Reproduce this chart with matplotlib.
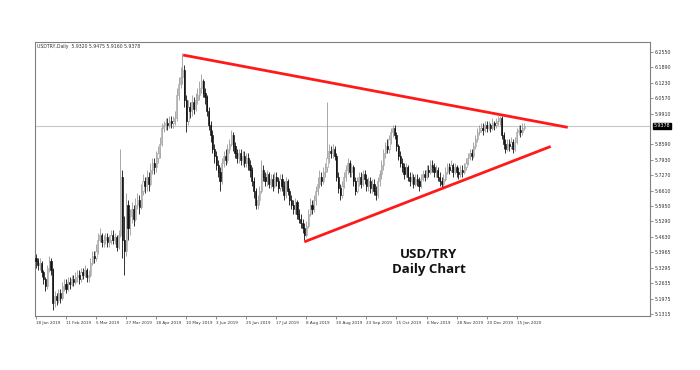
import matplotlib
matplotlib.use("Agg")
import matplotlib.pyplot as plt
import numpy as np

# ---------------- data ----------------
closes = [
5.36,5.34,5.35,5.31,5.28,5.25,5.33,5.36,5.32,5.18,
5.21,5.19,5.22,5.20,5.25,5.26,5.24,5.27,5.26,5.28,
5.27,5.29,5.30,5.28,5.31,5.30,5.32,5.29,5.30,5.35,
5.38,5.37,5.40,5.45,5.47,5.44,5.45,5.46,5.44,5.45,
5.47,5.45,5.46,5.42,5.47,5.72,5.45,5.40,5.60,5.50,
5.55,5.58,5.54,5.60,5.62,5.59,5.66,5.70,5.68,5.72,
5.69,5.75,5.78,5.76,5.80,5.82,5.86,5.93,5.94,5.95,
5.94,5.96,5.95,5.96,5.97,6.07,6.12,6.15,6.18,6.05,
5.96,6.02,6.00,6.04,6.01,6.05,6.07,6.10,6.13,6.08,
6.06,6.00,5.94,5.90,5.84,5.81,5.77,5.74,5.70,5.78,
5.81,5.79,5.84,5.86,5.90,5.85,5.82,5.80,5.82,5.79,
5.81,5.78,5.80,5.77,5.75,5.70,5.66,5.60,5.62,5.66,
5.75,5.72,5.70,5.73,5.69,5.71,5.68,5.72,5.70,5.67,
5.71,5.68,5.64,5.70,5.66,5.62,5.60,5.58,5.61,5.56,
5.54,5.52,5.50,5.47,5.51,5.56,5.60,5.58,5.62,5.66,
5.69,5.72,5.70,5.74,5.76,5.80,5.83,5.82,5.84,5.81,
5.72,5.67,5.64,5.68,5.72,5.75,5.78,5.74,5.76,5.70,
5.66,5.70,5.72,5.69,5.73,5.71,5.68,5.70,5.67,5.69,
5.66,5.64,5.70,5.73,5.77,5.82,5.85,5.84,5.88,5.91,
5.93,5.90,5.85,5.81,5.78,5.76,5.73,5.76,5.72,5.70,
5.72,5.69,5.71,5.70,5.68,5.71,5.73,5.72,5.75,5.74,
5.77,5.76,5.74,5.75,5.72,5.70,5.69,5.71,5.74,5.76,
5.75,5.77,5.74,5.76,5.74,5.73,5.75,5.74,5.76,5.78,
5.80,5.82,5.81,5.85,5.88,5.91,5.92,5.93,5.92,5.94,
5.93,5.94,5.93,5.95,5.94,5.95,5.96,5.97,5.90,5.86,
5.84,5.86,5.85,5.87,5.84,5.87,5.91,5.92,5.91,5.93,
5.9378]

highs = [
5.39,5.37,5.37,5.36,5.32,5.29,5.34,5.38,5.37,5.33,
5.23,5.22,5.24,5.24,5.27,5.28,5.28,5.29,5.29,5.30,
5.30,5.31,5.32,5.32,5.33,5.33,5.34,5.33,5.32,5.37,
5.40,5.40,5.43,5.48,5.50,5.48,5.47,5.48,5.48,5.47,
5.49,5.49,5.48,5.47,5.49,5.84,5.75,5.55,5.65,5.62,
5.58,5.61,5.60,5.63,5.65,5.64,5.69,5.73,5.72,5.75,
5.74,5.78,5.80,5.80,5.83,5.85,5.89,5.95,5.96,5.97,
5.97,5.98,5.98,5.98,6.00,6.10,6.15,6.19,6.25,6.20,
6.07,6.05,6.04,6.07,6.06,6.08,6.10,6.13,6.16,6.14,
6.10,6.07,6.02,5.96,5.92,5.86,5.83,5.79,5.76,5.80,
5.83,5.84,5.86,5.88,5.92,5.91,5.87,5.84,5.84,5.84,
5.83,5.83,5.82,5.82,5.79,5.76,5.72,5.67,5.64,5.68,
5.79,5.77,5.74,5.75,5.74,5.73,5.73,5.74,5.74,5.72,
5.73,5.73,5.70,5.72,5.71,5.67,5.64,5.62,5.63,5.62,
5.58,5.56,5.54,5.52,5.53,5.58,5.63,5.62,5.64,5.68,
5.72,5.75,5.74,5.76,5.78,6.04,5.86,5.85,5.86,5.85,
5.82,5.74,5.69,5.70,5.74,5.77,5.80,5.79,5.78,5.77,
5.72,5.72,5.74,5.74,5.75,5.75,5.73,5.72,5.72,5.71,
5.71,5.68,5.72,5.75,5.79,5.84,5.87,5.88,5.90,5.93,
5.94,5.94,5.91,5.86,5.83,5.80,5.78,5.78,5.77,5.74,
5.74,5.73,5.73,5.73,5.72,5.73,5.75,5.75,5.77,5.77,
5.79,5.79,5.78,5.77,5.76,5.74,5.72,5.73,5.76,5.78,
5.78,5.79,5.78,5.78,5.77,5.76,5.77,5.77,5.78,5.80,
5.82,5.84,5.84,5.87,5.90,5.93,5.94,5.95,5.95,5.96,
5.96,5.96,5.95,5.97,5.96,5.97,5.98,5.98,5.98,5.91,
5.88,5.88,5.88,5.89,5.88,5.89,5.93,5.94,5.94,5.95,
5.95]

lows = [
5.33,5.32,5.32,5.29,5.26,5.23,5.24,5.31,5.30,5.15,
5.16,5.17,5.18,5.18,5.19,5.23,5.22,5.23,5.24,5.25,
5.25,5.26,5.27,5.26,5.27,5.28,5.29,5.27,5.27,5.29,
5.34,5.35,5.36,5.39,5.44,5.42,5.42,5.43,5.42,5.42,
5.43,5.43,5.43,5.40,5.41,5.46,5.37,5.30,5.38,5.45,
5.47,5.52,5.51,5.53,5.58,5.56,5.58,5.64,5.65,5.66,
5.66,5.68,5.73,5.73,5.74,5.78,5.80,5.85,5.91,5.92,
5.92,5.93,5.93,5.93,5.94,5.96,6.05,6.10,6.12,6.02,
5.91,5.94,5.97,5.98,5.99,6.00,6.03,6.05,6.08,6.06,
6.03,5.98,5.92,5.87,5.82,5.78,5.75,5.72,5.66,5.69,
5.76,5.77,5.78,5.82,5.85,5.83,5.80,5.78,5.78,5.77,
5.77,5.76,5.76,5.75,5.72,5.68,5.63,5.58,5.58,5.60,
5.65,5.70,5.68,5.68,5.67,5.67,5.66,5.67,5.68,5.65,
5.66,5.66,5.62,5.63,5.64,5.60,5.58,5.56,5.56,5.54,
5.52,5.50,5.48,5.45,5.46,5.50,5.55,5.56,5.57,5.60,
5.64,5.67,5.68,5.69,5.72,5.74,5.78,5.80,5.80,5.79,
5.70,5.65,5.62,5.63,5.67,5.70,5.73,5.72,5.72,5.68,
5.64,5.65,5.68,5.67,5.68,5.69,5.66,5.66,5.65,5.65,
5.64,5.62,5.63,5.68,5.71,5.75,5.80,5.82,5.82,5.86,
5.89,5.88,5.83,5.79,5.76,5.74,5.71,5.72,5.70,5.68,
5.69,5.67,5.68,5.68,5.66,5.67,5.70,5.70,5.71,5.72,
5.73,5.74,5.72,5.72,5.70,5.68,5.67,5.67,5.70,5.73,
5.73,5.74,5.72,5.73,5.72,5.71,5.72,5.72,5.73,5.75,
5.77,5.79,5.79,5.80,5.84,5.87,5.90,5.91,5.90,5.91,
5.91,5.92,5.91,5.92,5.92,5.93,5.94,5.94,5.88,5.84,
5.82,5.83,5.83,5.84,5.82,5.83,5.86,5.90,5.89,5.90,
5.92]

first_open = 5.37

date_labels = ["18 Jan 2019", "11 Feb 2019", "5 Mar 2019", "27 Mar 2019",
               "18 Apr 2019", "10 May 2019", "3 Jun 2019", "25 Jun 2019",
               "17 Jul 2019", "8 Aug 2019", "30 Aug 2019", "23 Sep 2019",
               "15 Oct 2019", "6 Nov 2019", "28 Nov 2019", "20 Dec 2019",
               "15 Jan 2020"]
date_label_step = 16

price_ticks = [6.2550, 6.1890, 6.1230, 6.0570, 5.9910, 5.8590, 5.7930,
               5.7270, 5.6610, 5.5950, 5.5290, 5.4630, 5.3965, 5.3295,
               5.2635, 5.1975, 5.1315]
price_tick_labels = ["6.2550", "6.1890", "6.1230", "6.0570", "5.9910",
                     "5.8590", "5.7930", "5.7270", "5.6610", "5.5950",
                     "5.5290", "5.4630", "5.3965", "5.3295", "5.2635",
                     "5.1975", "5.1315"]
current_price = 5.9378
header_text = "USDTRY,Daily  5.9320 5.9475 5.9160 5.9378"

upper_trend_x = [78.4, 283.2]
upper_trend_y = [6.242, 5.932]
lower_trend_x = [142.9, 274.1]
lower_trend_y = [5.441, 5.850]

# ---------------- figure ----------------
fig = plt.figure(figsize=(7.0, 3.7), dpi=100)
ax = fig.add_axes([35/700, 1-316/370, (650-35)/700, (316-42)/370])

n = len(closes)
x = np.arange(n)
opens = np.array([first_open] + closes[:-1])
c = np.array(closes)
h = np.array(highs)
l = np.array(lows)
up = c >= opens

wick_col = np.where(up, "#9a9a9a", "#111111")
ax.vlines(x, l, h, colors=wick_col, linewidth=0.6, zorder=2)
body_bottom = np.minimum(opens, c)
body_h = np.maximum(np.abs(c - opens), 0.002)
ax.bar(x[up], body_h[up], bottom=body_bottom[up], width=0.6,
       color="white", edgecolor="#9a9a9a", linewidth=0.45, zorder=3)
ax.bar(x[~up], body_h[~up], bottom=body_bottom[~up], width=0.6,
       color="#111111", edgecolor="#111111", linewidth=0.45, zorder=3)

ax.axhline(current_price, color="#c8c8c8", linewidth=0.8, zorder=1)

ax.plot(upper_trend_x, upper_trend_y, color="#ff1a1a", linewidth=2.0,
        solid_capstyle="butt", zorder=4)
ax.plot(lower_trend_x, lower_trend_y, color="#ff1a1a", linewidth=2.0,
        solid_capstyle="butt", zorder=4)

ax.set_xlim(-0.5, 327)
ax.set_ylim(5.1230, 6.2980)

# x ticks
xt = [i * date_label_step for i in range(len(date_labels))]
ax.set_xticks(xt)
ax.set_xticklabels(date_labels, fontsize=3.0, ha="left", color="#333333")
ax.tick_params(axis="x", length=2, width=0.5, pad=1.5, colors="#666666",
               labelcolor="#333333")

# y ticks on right
ax.yaxis.tick_right()
ax.set_yticks(price_ticks)
ax.set_yticklabels(price_tick_labels, fontsize=3.4, color="#333333")
ax.tick_params(axis="y", length=2, width=0.5, pad=1.5, colors="#666666",
               labelcolor="#333333")

for s in ax.spines.values():
    s.set_color("#808080")
    s.set_linewidth(0.8)

# current price box
ax.annotate(f"{current_price:.4f}", xy=(1.0, current_price),
            xycoords=("axes fraction", "data"), xytext=(2.5, 0),
            textcoords="offset points", fontsize=3.4, color="white",
            va="center", ha="left",
            bbox=dict(boxstyle="square,pad=0.15", fc="black", ec="black"))

ax.text(0.004, 0.992, header_text, transform=ax.transAxes, fontsize=3.3,
        va="top", ha="left", color="#333333")

ax.text(0.64, 0.225, "USD/TRY", transform=ax.transAxes, fontsize=9.5,
        fontweight="bold", family="Open Sans", ha="center", va="center",
        color="#111111")
ax.text(0.64, 0.168, "Daily Chart", transform=ax.transAxes, fontsize=9.5,
        fontweight="bold", family="Open Sans", ha="center", va="center",
        color="#111111")

fig.savefig("out.png", dpi=100, facecolor="white")
